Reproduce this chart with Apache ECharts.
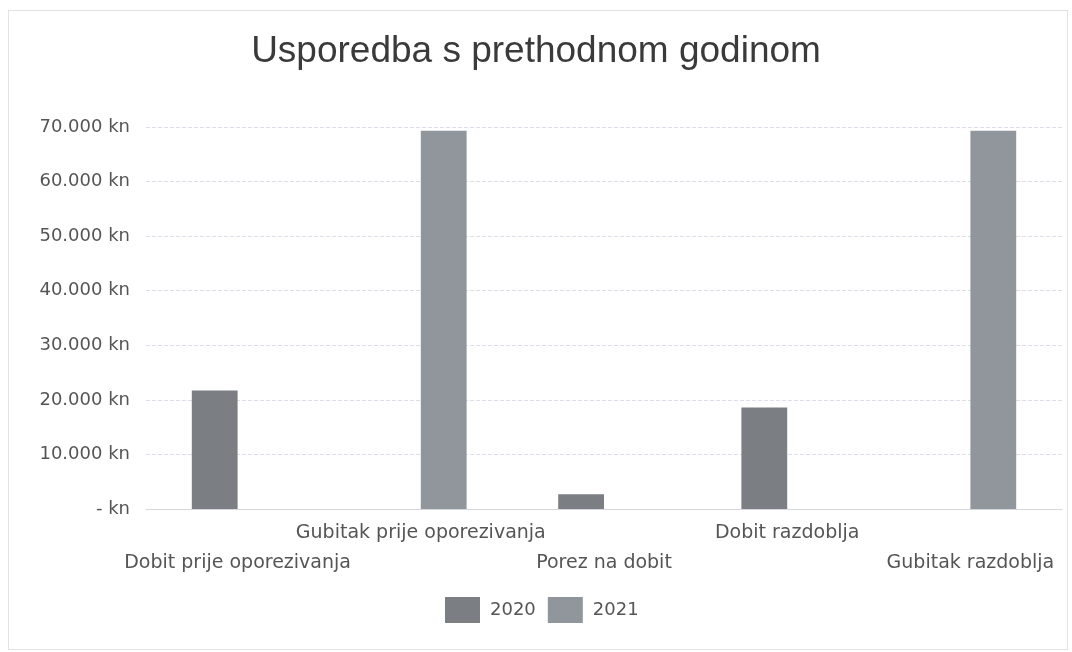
<!DOCTYPE html>
<html>
<head>
<meta charset="utf-8">
<script src="https://cdn.jsdelivr.net/npm/echarts@6/dist/echarts.min.js"></script>
<style>
  html, body { margin: 0; padding: 0; background: #fff; }
  .frame {
    position: absolute; left: 8px; top: 10px; width: 1058px; height: 638px;
    border: 1px solid #e2e2e2;
  }
  #chart { width: 1072px; height: 652px; }
</style>
</head>
<body>
<div class="frame"></div>
<div id="chart"></div>
<script>
// categories and values
const categories = [
  "Dobit prije oporezivanja",
  "Gubitak prije oporezivanja",
  "Porez na dobit",
  "Dobit razdoblja",
  "Gubitak razdoblja"
];
const values2020 = [21700, 0, 2700, 18600, 0];
const values2021 = [0, 69300, 0, 0, 69300];
const yTicks = [0, 10000, 20000, 30000, 40000, 50000, 60000, 70000];

const fmtKn = (v) => {
  if (v === 0) return "- kn";
  return String(v).replace(/\B(?=(\d{3})+(?!\d))/g, ".") + " kn";
};

const mycharts = echarts.init(document.getElementById("chart"));
const options = {
  animation: false,
  title: {
    text: "Usporedba s prethodnom godinom",
    left: "center",
    top: 28,
    textStyle: {
      fontFamily: "Liberation Sans",
      fontSize: 37,
      fontWeight: "normal",
      color: "#3a3a3a"
    }
  },
  legend: {
    bottom: 24,
    left: 440,
    itemWidth: 35,
    itemHeight: 26,
    itemGap: 12,
    icon: "rect",
    textStyle: { fontFamily: "DejaVu Sans", fontSize: 18, color: "#555", padding: [0, 0, 0, 5] },
    data: ["2020", "2021"]
  },
  grid: { left: 146, right: 10, top: 127, bottom: 143 },
  xAxis: {
    type: "category",
    data: categories,
    axisLine: { lineStyle: { color: "#d4d7e2" } },
    axisTick: { show: false },
    axisLabel: {
      interval: 0,
      margin: 9,
      fontFamily: "DejaVu Sans",
      fontSize: 19,
      color: "#555",
      lineHeight: 30,
      formatter: (value, index) => (index % 2 === 0 ? "\n" + value : value)
    }
  },
  yAxis: {
    type: "value",
    min: yTicks[0],
    max: yTicks[yTicks.length - 1],
    interval: 10000,
    axisLine: { show: false },
    axisTick: { show: false },
    splitLine: { lineStyle: { color: "#dcdfe8", type: "dashed" } },
    axisLabel: {
      margin: 16,
      fontFamily: "DejaVu Sans",
      fontSize: 18,
      color: "#555",
      formatter: fmtKn
    }
  },
  series: [
    {
      name: "2020",
      type: "bar",
      data: values2020,
      barGap: "0%",
      barCategoryGap: "50%",
      itemStyle: { color: "#7b7e82" }
    },
    {
      name: "2021",
      type: "bar",
      data: values2021,
      itemStyle: { color: "#90969b" }
    }
  ]
};
mycharts.setOption(options);
</script>
</body>
</html>
